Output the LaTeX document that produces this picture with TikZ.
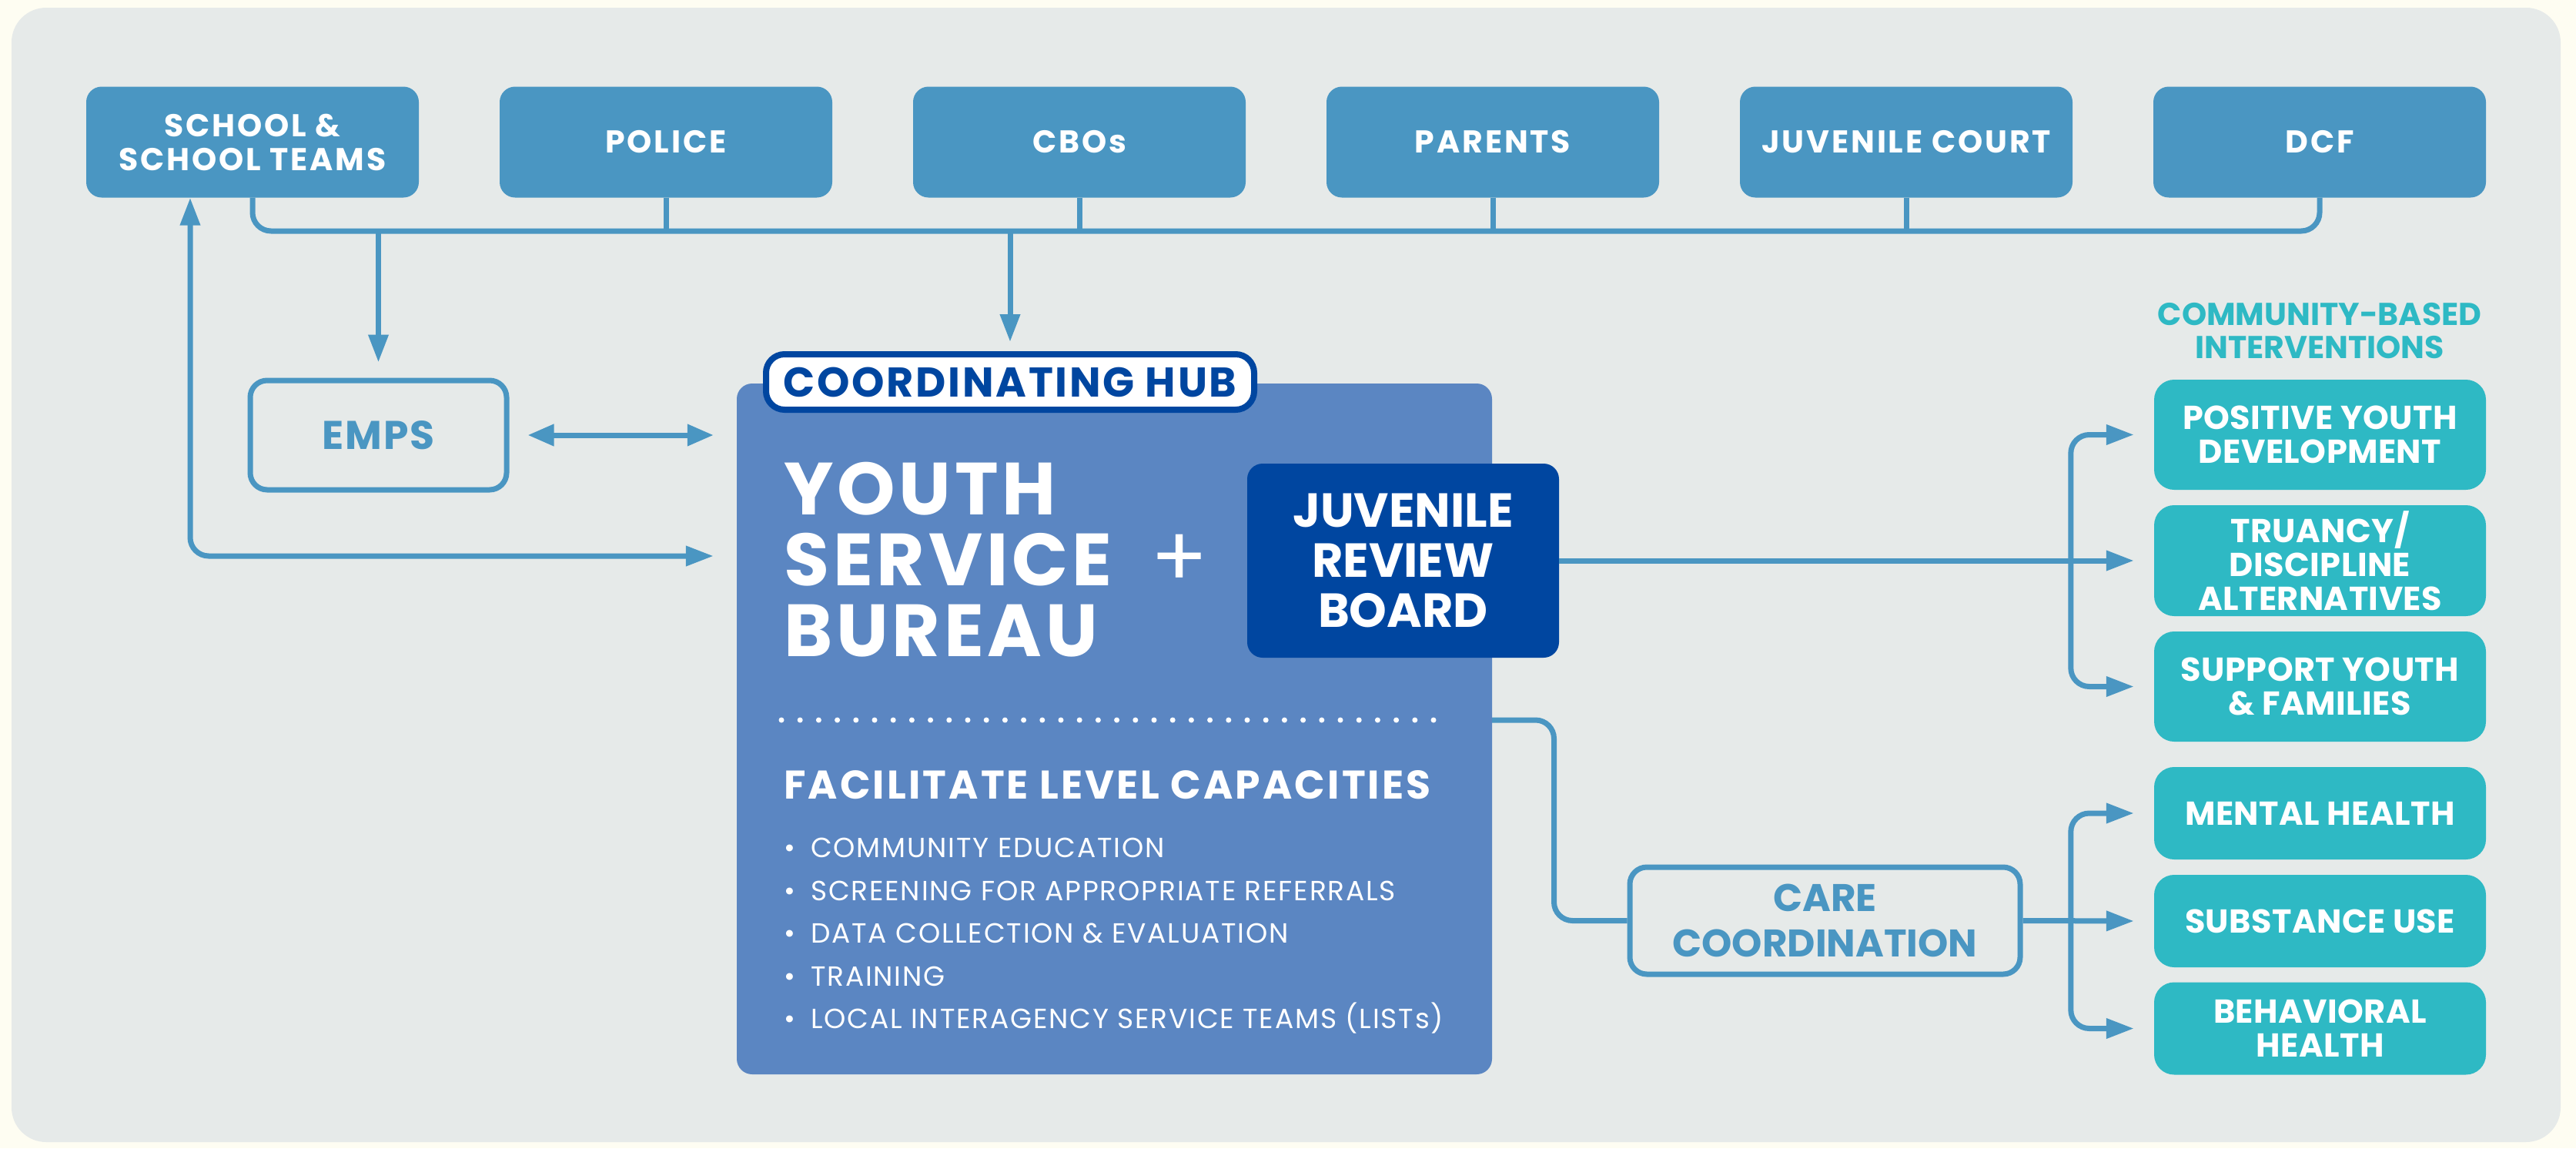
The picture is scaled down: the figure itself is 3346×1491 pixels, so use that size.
\documentclass[tikz,border=0pt]{standalone}
\usepackage{fontspec}
\setmainfont{Poppins}
\usetikzlibrary{arrows.meta,positioning}
\definecolor{creambg}{RGB}{254,253,242}
\definecolor{panelgrey}{RGB}{230,234,233}
\definecolor{srcblue}{RGB}{74,150,194}
\definecolor{hubblue}{RGB}{91,134,194}
\definecolor{jrbnavy}{RGB}{0,70,160}
\definecolor{intteal}{RGB}{46,185,196}
\newcommand{\trk}[1]{\addfontfeatures{LetterSpace=#1}}
\tikzset{
  srcbox/.style={fill=srcblue, rounded corners=20pt, minimum width=432pt, minimum height=144pt,
    text=white, align=center, font=\bfseries\fontsize{41}{44}\selectfont\trk{7}},
  outbox/.style={draw=srcblue, line width=7pt, fill=panelgrey, rounded corners=22pt,
    text=srcblue, align=center},
  intbox/.style={fill=intteal, rounded corners=26pt, minimum width=431pt,
    text=white, align=center, font=\bfseries\fontsize{43}{44}\selectfont\trk{1}},
  link/.style={draw=srcblue, line width=7pt, rounded corners=24pt},
  arr/.style={link, -{Triangle[length=36pt,width=25pt]}},
  dblarr/.style={link, {Triangle[length=34pt,width=27pt]}-{Triangle[length=34pt,width=27pt]}}
}
\begin{document}
\begin{tikzpicture}[x=1pt, y=-1pt]
  \useasboundingbox (0,0) rectangle (3346,1491);
  \fill[creambg] (0,0) rectangle (3346,1491);
  \fill[panelgrey, rounded corners=45pt] (15,10) rectangle (3326,1483);

  \foreach \name/\txt/\xc in {school/{SCHOOL \&\\SCHOOL TEAMS}/328, police/POLICE/865,
    cbos/CBOs/1402, parents/PARENTS/1939, court/JUVENILE COURT/2476, dcf/DCF/3013}{
    \node[srcbox] (\name) at (\xc,184.5) {\txt};
  }
  \coordinate (busR) at (3013,300);
  \draw[link] (school.south) |- (busR) -- (dcf.south);
  \foreach \n in {police,cbos,parents,court}
    \draw[link] (\n.south) -- (\n.south |- busR);

  \node[outbox, minimum width=333pt, minimum height=142pt,
    font=\bfseries\fontsize{52}{52}\selectfont\trk{4}] (emps) at (491.5,565) {EMPS};
  \node[fill=hubblue, rounded corners=20pt, minimum width=981pt, minimum height=897pt] (ysb) at (1447.5,946.5) {};
  \node[draw=jrbnavy, line width=8pt, fill=white, rounded corners=24pt, minimum width=634pt,
    minimum height=72pt, text=jrbnavy, font=\bfseries\fontsize{54}{54}\selectfont\trk{5}] (hub) at (1312,496) {COORDINATING HUB};

  \foreach \txt/\yb [count=\i] in {YOUTH/668, SERVICE/760, BUREAU/852}
    \node[anchor=base west, inner sep=0, text=white, font=\bfseries\fontsize{96}{96}\selectfont\trk{5}] (ysbt\i) at (1018,\yb) {\txt};
  \node[text=white, font=\fontsize{110}{110}\selectfont] (plus) at (1532,728) {+};
  \node[fill=jrbnavy, rounded corners=20pt, minimum width=405pt, minimum height=252pt, text=white,
    align=center, font=\bfseries\fontsize{62}{65}\selectfont] (jrb) at (1822.5,728) {JUVENILE\\REVIEW\\BOARD};

  \coordinate (dotsL) at (1015,935);
  \coordinate (dotsR) at (1885,935);
  \draw[white, line width=7pt, line cap=round, dash pattern=on 0pt off 24.2pt] (dotsL) -- (dotsR);
  \node[anchor=base west, inner sep=0, text=white, font=\bfseries\fontsize{52}{52}\selectfont\trk{6}] (facil) at (1018,1037) {FACILITATE LEVEL CAPACITIES};
  \foreach \txt [count=\i] in {COMMUNITY EDUCATION, SCREENING FOR APPROPRIATE REFERRALS,
    DATA COLLECTION \& EVALUATION, TRAINING, LOCAL INTERAGENCY SERVICE TEAMS (LISTs)}
    \node[anchor=base west, inner sep=0, text=white, font=\fontsize{36}{36}\selectfont\trk{5}] (cap\i) at (1018,{1058+55.5*\i}) {\makebox[35pt][l]{\textbullet}\txt};

  \node[outbox, minimum width=507pt, minimum height=139pt,
    font=\bfseries\fontsize{50}{59}\selectfont] (care) at (2370.5,1195.5) {CARE\\COORDINATION};

  \node[text=intteal, align=center, font=\bfseries\fontsize{41}{43}\selectfont] (cbi) at (3013,430) {COMMUNITY-BASED\\INTERVENTIONS};
  \foreach \txt/\yc/\h [count=\i] in {{POSITIVE YOUTH\\DEVELOPMENT}/564.5/143, {TRUANCY/\\DISCIPLINE\\ALTERNATIVES}/728/144,
    {SUPPORT YOUTH\\\& FAMILIES}/891.5/143, {MENTAL HEALTH}/1056/120, {SUBSTANCE USE}/1196/120, {BEHAVIORAL\\HEALTH}/1335.5/120}
    \node[intbox, minimum height=\h pt] (int\i) at (3013.5,\yc) {\txt};

  \draw[arr] ([xshift=-81pt,yshift=-25pt]school.south) |- ([xshift=-30pt]ysb.west |- 0,722);
  \draw[arr] ([xshift=-81pt,yshift=-25pt]school.south) -- (school.south -| 247,0);
  \draw[arr] (emps.north |- busR) -- ([yshift=20pt]emps.north);
  \draw[arr] (hub.north |- busR) -- ([yshift=12pt]hub.north);
  \draw[dblarr] ([xshift=24pt]emps.east) -- ([xshift=-30pt]emps.east -| ysb.west);
  \draw[link] (ysb.east |- dotsR) -| ([xshift=-95pt]care.west) -- (care.west);

  \draw[arr] (jrb.east) -- ([xshift=-26pt]int2.west);
  \draw[arr] ([xshift=-108pt]int2.west) |- ([xshift=-26pt]int1.west);
  \draw[arr] ([xshift=-108pt]int2.west) |- ([xshift=-26pt]int3.west);
  \draw[arr] (care.east) -- ([xshift=-26pt]int5.west);
  \draw[arr] ([xshift=-108pt]int5.west) |- ([xshift=-26pt]int4.west);
  \draw[arr] ([xshift=-108pt]int5.west) |- ([xshift=-26pt]int6.west);
\end{tikzpicture}
\end{document}
